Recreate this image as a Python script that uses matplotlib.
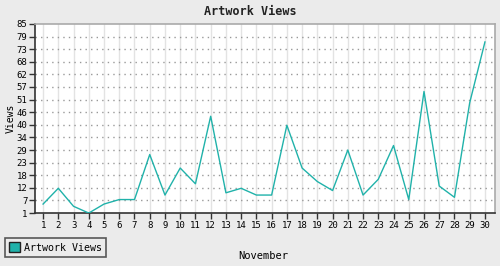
import numpy as np
import matplotlib
matplotlib.use("Agg")
import matplotlib.pyplot as plt
from matplotlib.patches import Patch

# daily views in November
days = list(range(1, 31))
views = [5, 12, 4, 1, 5, 7, 7, 27, 9, 21, 14, 44, 10, 12, 9,
         9, 40, 21, 15, 11, 29, 9, 16, 31, 7, 55, 13, 8, 50, 77]
y_ticks = np.linspace(1, 85, 16)
y_labels = ["1", "7", "12", "18", "23", "29", "34", "40", "46", "51",
            "57", "62", "68", "73", "79", "85"]

line_color = "#20b2aa"
bg = "#ebebeb"

plt.rcParams['font.family'] = ['DejaVu Sans Mono']

fig = plt.figure(figsize=(5, 2.66), dpi=100, facecolor=bg)
ax = fig.add_axes([0.07, 0.199, 0.92, 0.711])
ax.set_facecolor("white")

ax.plot(days, views, color=line_color, linewidth=1.0, zorder=3)

ax.set_xlim(0.47, 30.66)
ax.set_ylim(1, 85)
ax.set_xticks(days)
ax.set_xticklabels([str(d) for d in days], fontsize=6.5)
ax.set_yticks(y_ticks)
ax.set_yticklabels(y_labels, fontsize=6.5)
ax.tick_params(axis='both', length=4, width=1, color="#333333", pad=1.5)

# vertical solid grid, horizontal dotted grid
for d in days:
    ax.axvline(d, color="#e3e3e3", linewidth=1, zorder=1)
for t in y_ticks[1:-1]:
    ax.axhline(t, color="#999999", linewidth=1, linestyle=(0, (1, 3)), zorder=2)

for side in ("top", "right"):
    ax.spines[side].set_color("#aaaaaa")
    ax.spines[side].set_linewidth(1.2)
for side in ("left", "bottom"):
    ax.spines[side].set_color("#333333")
    ax.spines[side].set_linewidth(1.2)

fig.text(0.5, 0.955, "Artwork Views", ha="center", va="center",
         fontsize=8.5, fontweight="bold", color="#222222")
fig.text(0.021, 0.555, "Views", rotation=90, ha="center", va="center", fontsize=7)
fig.text(0.526, 0.039, "November", ha="center", va="center", fontsize=7.5)

handle = Patch(facecolor=line_color, edgecolor="#222222", linewidth=1)
leg = fig.legend([handle], ["Artwork Views"], loc="lower left",
                 bbox_to_anchor=(0.01, 0.035), fontsize=7.2, frameon=True,
                 fancybox=False, handlelength=1.1, handleheight=1.1,
                 handletextpad=0.4, borderpad=0.4, borderaxespad=0)
leg.get_frame().set_facecolor(bg)
leg.get_frame().set_edgecolor("#333333")
leg.get_frame().set_linewidth(1.2)

fig.savefig("out.png", dpi=100, facecolor=bg)
